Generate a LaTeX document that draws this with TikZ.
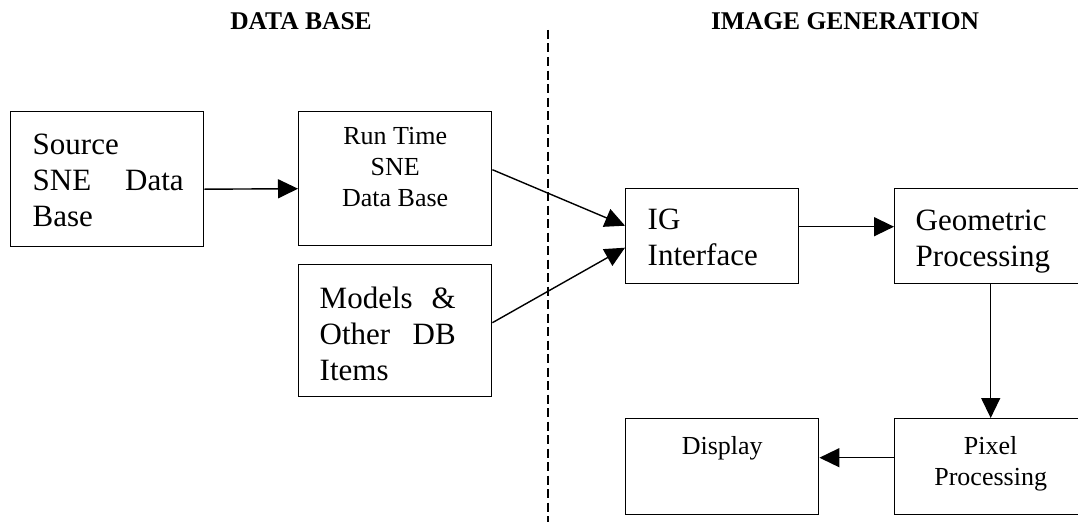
\documentclass[tikz,border=0pt]{standalone}
\usepackage{fontspec}
\setmainfont{Liberation Serif}
\usetikzlibrary{arrows.meta,positioning,calc}

\newcommand{\boxfontL}{\fontsize{31}{36}\selectfont}
\newcommand{\boxfontS}{\fontsize{26}{31}\selectfont}
% fixed-size text area: width, height, top gap, contents
\newcommand{\boxtext}[4]{\parbox[c][#2pt][t]{#1pt}{\parindent=0pt\vspace*{#3pt}#4\par}}

\begin{document}
\begin{tikzpicture}[x=1pt,y=-1pt,
    blk/.style={draw,line width=1.4pt,inner sep=0pt,anchor=north west},
    conn/.style={line width=1.4pt,-{Triangle[length=20pt,width=19pt]}},
    divider/.style={line width=1.5pt,dash pattern=on 9pt off 4.5pt},
    head/.style={font=\fontsize{25.5}{30}\selectfont\bfseries,anchor=base,inner sep=0pt}]
    \useasboundingbox (0,0) rectangle (1078,527);

    % section titles and the dashed split between them
    \node[head] (dbhead) at (301,30) {DATA BASE};
    \node[head] (ighead) at (845,30) {IMAGE GENERATION};
    \coordinate (divtop) at (548,30);
    \coordinate (divbot) at (548,522);
    \draw[divider] (divtop) -- (divbot);

    % data base side
    \node[blk] (src) at (10,111)
      {\boxtext{193}{135}{22}{\boxfontL\leftskip=22pt\rightskip=20pt Source\\SNE\hfill Data\\Base}};
    \node[blk] (rtdb) at (298,111)
      {\boxtext{193}{134}{16}{\boxfontS\centering Run Time\\SNE\\Data Base}};
    \node[blk] (models) at (298,264)
      {\boxtext{193}{132}{22}{\boxfontL\leftskip=21pt\rightskip=36pt Models\hfill\&\\Other\hfill DB\\Items}};

    % image generation side
    \node[blk] (igif) at (625,188)
      {\boxtext{173}{95}{20}{\boxfontL\leftskip=22pt IG\\Interface}};
    \node[blk] (geom) at (894,188)
      {\boxtext{192}{95}{21}{\boxfontL\leftskip=21pt Geometric\\Processing}};
    \node[blk] (disp) at (625,418)
      {\boxtext{193}{96}{18}{\boxfontS\centering Display}};
    \node[blk] (pixel) at (894,418)
      {\boxtext{192}{96}{18}{\boxfontS\centering Pixel\\Processing}};

    \draw[conn] ([yshift=-10pt]src.east) -- ([yshift=-10pt]rtdb.west);
    \draw[conn] ([yshift=9pt]rtdb.east) -- ([yshift=10.5pt]igif.west);
    \draw[conn] ([yshift=8pt]models.east) -- ([yshift=-11.5pt]igif.west);
    \draw[conn] ([yshift=9.5pt]igif.east) -- ([yshift=9.5pt]geom.west);
    \draw[conn] (geom.south) -- (pixel.north);
    \draw[conn] ([yshift=9pt]pixel.west) -- ([yshift=9pt]disp.east);
\end{tikzpicture}
\end{document}
